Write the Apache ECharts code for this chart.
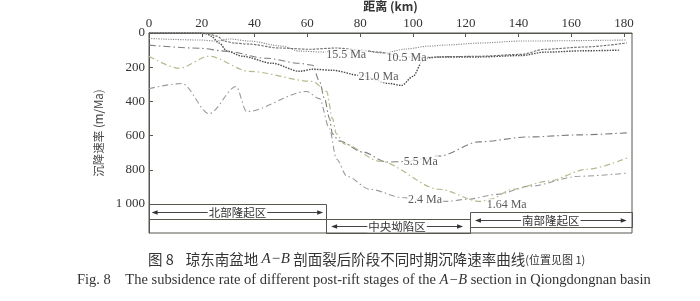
<!DOCTYPE html>
<html><head><meta charset="utf-8">
<script src="https://cdn.jsdelivr.net/npm/echarts@6/dist/echarts.min.js"></script>
<style>html,body{margin:0;padding:0;background:#fff}#c{width:700px;height:301px}</style>
</head><body><div id="c"></div>
<script>
// ---- data (distance km, subsidence rate m/Ma) ----
const ma21Dist = [0,19,22,23.5,26.6,29.6,35.3,46.7,57,62,69.5,80,91,95.7,100,103.7,106,110,125,141,150,165,178.6];
const ma21Rate = [0,0,5,18,59,106,136,177,224,212,218,248,295,307,254,165,145,140,140,132,112,104,100];

const ma155Dist = [0,19,25.5,30.4,38,50.5,57,67,75,82,89,97,106,113,125,141,181];
const ma155Rate = [32,41,47,35,47,77,106,112,118,106,118,94,77,70,59,47,41];

const ma105Dist = [0,22,25.8,28.5,32.3,38,49.4,60.8,71,80,87,97,106,115,125,141,150,165,181];
const ma105Rate = [0,2,18,47,59,65,88,95,88,100,112,140,142,138,136,125,95,82,58];

const ma55Dist = [0,19,29,44.5,57,62,64.6,66.5,68.4,69.5,72,81,90,97,110,125,144,163,181];
const ma55Rate = [71,89,106,148,177,189,283,384,500,590,631,696,755,752,720,637,608,596,584];

const ma24Dist = [0,12.5,22.8,33,37,59.7,64.6,68.4,71,75,83.6,96,104,113,120.4,132,144,163,181];
const ma24Rate = [325,295,472,313,460,342,384,560,737,838,914,962,977,985,973,944,897,838,820];

const ma164Dist = [0,11.4,22.8,38,62,67.3,69.5,71,74,87.4,110,125.4,129,138,151,166,182];
const ma164Rate = [136,206,136,224,283,342,500,590,649,750,914,985,973,914,867,797,726];

// curve labels
const labelNames = ['15.5 Ma','10.5 Ma','21.0 Ma','5.5 Ma','2.4 Ma','1.64 Ma'];
const labelDist  = [74.7, 97.6, 87, 103, 104.6, 135.5];
const labelRate  = [130, 148, 254, 752, 977, 1006];

// structural zones
const zoneNames  = ['北部隆起区','中央坳陷区','南部隆起区'];
const zoneFrom   = [0, 67, 121.7];
const zoneTo     = [67, 121.7, 183];
const zoneTop    = [1000, 1089, 1048];
const zoneBottom = [1089, 1170, 1136];
const arrowFrom  = [1, 69, 123.5];
const arrowTo    = [66, 119, 181];
const arrowLevel = [1047, 1130, 1095];

const yTickLabels = {0:'0',200:'200',400:'400',600:'600',800:'800',1000:'1 000'};

const pairs = (xs, ys) => xs.map((x, i) => [x, ys[i]]);
const serif = '"Liberation Serif","DejaVu Serif",serif';
const cjk = '"Noto Sans CJK SC","Noto Sans",sans-serif';
const axisColor = '#55584e';

function lineSeries(name, xs, ys, color, dash, width) {
  return {
    name, type: 'line', data: pairs(xs, ys), showSymbol: false, symbol: 'none',
    smooth: 0.3, smoothMonotone: 'x', z: 2,
    lineStyle: { color, width: width || 1.1, type: dash }
  };
}

const chart = echarts.init(document.getElementById('c'), null, { renderer: 'canvas' });
chart.setOption({
  animation: false,
  backgroundColor: '#fff',
  grid: { left: 149, right: 68, top: 33, bottom: 68, containLabel: false, outerBoundsMode: 'none',
    show: true, borderColor: axisColor, borderWidth: 1, backgroundColor: 'transparent' },
  xAxis: {
    type: 'value', position: 'top', min: 0, max: 183, interval: 20,
    axisLine: { show: true, lineStyle: { color: axisColor } },
    axisTick: { show: true, inside: true, length: 4, lineStyle: { color: axisColor } },
    axisLabel: { fontFamily: serif, fontSize: 13, color: '#333', margin: 3, showMaxLabel: false },
    splitLine: { show: false },
    name: '距离 (km)', nameLocation: 'middle', nameGap: 19,
    nameTextStyle: { fontFamily: cjk, fontSize: 12, fontWeight: 'bold', color: '#333' }
  },
  yAxis: {
    type: 'value', inverse: true, min: 0, max: 1170, interval: 200,
    axisLine: { show: true, lineStyle: { color: axisColor } },
    axisTick: { show: true, inside: true, length: 4, lineStyle: { color: axisColor } },
    axisLabel: { fontFamily: serif, fontSize: 13, color: '#333', margin: 4, showMaxLabel: false,
      formatter: v => yTickLabels[v] !== undefined ? yTickLabels[v] : '' },
    splitLine: { show: false },
    name: '沉降速率 (m/Ma)', nameLocation: 'middle', nameGap: 30, nameRotate: 90,
    nameTextStyle: { fontFamily: cjk, fontSize: 11.5, color: '#444' }
  },
  series: [
    lineSeries('21.0 Ma', ma21Dist, ma21Rate, '#4a4a4a', [1.5, 1.2], 1.4),
    lineSeries('15.5 Ma', ma155Dist, ma155Rate, '#8a8a8a', [1.2, 1.2], 1.1),
    lineSeries('10.5 Ma', ma105Dist, ma105Rate, '#6f6f6f', [2.5, 1.2], 1.1),
    lineSeries('5.5 Ma', ma55Dist, ma55Rate, '#7d7d7d', [7, 3, 1.5, 3], 1.1),
    lineSeries('2.4 Ma', ma24Dist, ma24Rate, '#9a9a9a', [6, 3, 1.5, 3], 1.1),
    lineSeries('1.64 Ma', ma164Dist, ma164Rate, '#b8b88e', [6, 3, 1.5, 3], 1.2),
    {
      type: 'scatter', z: 5, symbolSize: 1, itemStyle: { color: 'rgba(0,0,0,0)' },
      data: labelNames.map((n, i) => [labelDist[i], labelRate[i], n]),
      label: { show: true, position: 'inside', formatter: p => p.data[2],
        fontFamily: serif, fontSize: 12, color: '#333', backgroundColor: '#fff', padding: [0, 1] }
    },
    {
      type: 'custom', z: 4, clip: false,
      data: zoneNames.map((n, i) => [zoneFrom[i], zoneTop[i], i]),
      renderItem: function (params, api) {
        const i = api.value(2);
        const p0 = api.coord([zoneFrom[i], zoneTop[i]]);
        const p1 = api.coord([zoneTo[i], zoneBottom[i]]);
        const a0 = api.coord([arrowFrom[i], arrowLevel[i]]);
        const a1 = api.coord([arrowTo[i], arrowLevel[i]]);
        const y = Math.round(a0[1]) + 0.5;
        return {
          type: 'group',
          children: [
            { type: 'rect', shape: { x: Math.round(p0[0]) + 0.5, y: Math.round(p0[1]) + 0.5, width: Math.round(p1[0] - p0[0]), height: Math.round(p1[1] - p0[1]) },
              style: { fill: 'none', stroke: axisColor, lineWidth: 1 } },
            { type: 'line', shape: { x1: a0[0] + 4, y1: y, x2: a1[0] - 4, y2: y }, style: { stroke: '#444', lineWidth: 1 } },
            { type: 'polygon', shape: { points: [[a0[0], y], [a0[0] + 6, y - 2.2], [a0[0] + 6, y + 2.2]] }, style: { fill: '#333' } },
            { type: 'polygon', shape: { points: [[a1[0], y], [a1[0] - 6, y - 2.2], [a1[0] - 6, y + 2.2]] }, style: { fill: '#333' } },
            { type: 'text', style: { text: zoneNames[i], x: (a0[0] + a1[0]) / 2, y: y, align: 'center', verticalAlign: 'middle',
                font: '11.5px ' + cjk, fill: '#333', backgroundColor: '#fff', padding: [0, 1] } }
          ]
        };
      }
    }
  ],
  graphic: [
    { type: 'text', left: 148, top: 252, style: {
        text: '{a|图 8}　{b|琼东南盆地 }{i|A−B}{b| 剖面裂后阶段不同时期沉降速率曲线}{s|(位置见图 1)}',
        rich: {
          a: { fontFamily: cjk, fontSize: 14.5, fill: '#333' },
          b: { fontFamily: cjk, fontSize: 14.5, fill: '#333' },
          i: { fontFamily: serif, fontSize: 15, fontStyle: 'italic', fill: '#333' },
          s: { fontFamily: cjk, fontSize: 11, fill: '#333' }
        } } },
    { type: 'text', left: 77, top: 273, style: {
        text: '{r|Fig. 8    The subsidence rate of different post-rift stages of the }{i|A−B}{r| section in Qiongdongnan basin}',
        rich: {
          r: { fontFamily: serif, fontSize: 14.5, fill: '#333' },
          i: { fontFamily: serif, fontSize: 14.5, fontStyle: 'italic', fill: '#333' }
        } } }
  ]
});
</script></body></html>
